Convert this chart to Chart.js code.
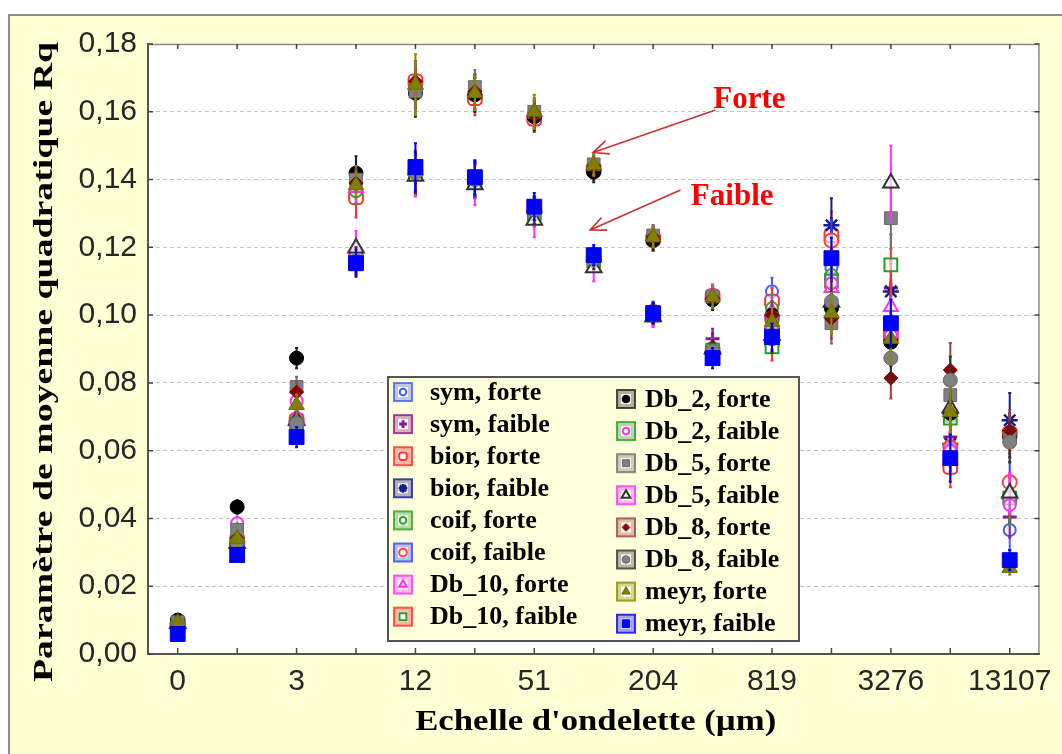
<!DOCTYPE html>
<html>
<head>
<meta charset="utf-8">
<script src="https://cdn.jsdelivr.net/npm/chart.js@4.4.1/dist/chart.umd.min.js"></script>
<style>
  html, body { margin: 0; padding: 0; background: #ffffff; }
  canvas { display: block; }
</style>
</head>
<body>
<canvas id="chart" width="1062" height="754"></canvas>
<script>
// Wavelet scales (µm) – one category per decomposition level
const categories = ['0', '1', '3', '6', '12', '25', '51', '102', '204', '409', '819', '1638', '3276', '6553', '13107'];
// Only every second scale carries a printed label
const tickLabels = ['0', '', '3', '', '12', '', '51', '', '204', '', '819', '', '3276', '', '13107'];
const yTicks = [0, 0.02, 0.04, 0.06, 0.08, 0.10, 0.12, 0.14, 0.16, 0.18];

// Rq values per wavelet family and filtering level ("forte" / "faible")
const symForte   = [0.0092, 0.0340, 0.0690, 0.1370, 0.1670, 0.1655, 0.1595, 0.1435, 0.1230, 0.1060, 0.1070, 0.1140, 0.0960, 0.0610, 0.0366];
const symFaible  = [0.0090, 0.0330, 0.0680, 0.1170, 0.1420, 0.1400, 0.1310, 0.1165, 0.1005, 0.0930, 0.0950, 0.1120, 0.1080, 0.0640, 0.0404];
const biorForte  = [0.0093, 0.0335, 0.0690, 0.1348, 0.1690, 0.1640, 0.1580, 0.1430, 0.1225, 0.1055, 0.1040, 0.1236, 0.0935, 0.0552, 0.0650];
const biorFaible = [0.0088, 0.0325, 0.0675, 0.1165, 0.1415, 0.1395, 0.1305, 0.1160, 0.1000, 0.0890, 0.0960, 0.1265, 0.1070, 0.0620, 0.0690];
const coifForte  = [0.0091, 0.0338, 0.0676, 0.1365, 0.1675, 0.1650, 0.1590, 0.1430, 0.1228, 0.1050, 0.1020, 0.1118, 0.0940, 0.0700, 0.0460];
const coifFaible = [0.0090, 0.0330, 0.0685, 0.1175, 0.1425, 0.1400, 0.1310, 0.1170, 0.1010, 0.0900, 0.0990, 0.1220, 0.0950, 0.0610, 0.0507];
const db10Forte  = [0.0095, 0.0345, 0.0700, 0.1375, 0.1680, 0.1660, 0.1600, 0.1440, 0.1235, 0.1060, 0.1010, 0.1080, 0.1024, 0.0720, 0.0470];
const db10Faible = [0.0089, 0.0328, 0.0678, 0.1160, 0.1420, 0.1395, 0.1300, 0.1160, 0.1000, 0.0897, 0.0906, 0.1100, 0.1148, 0.0696, 0.0460];
const db2Forte   = [0.0100, 0.0434, 0.0873, 0.1419, 0.1655, 0.1650, 0.1585, 0.1422, 0.1220, 0.1045, 0.1000, 0.1020, 0.0920, 0.0710, 0.0640];
const db2Faible  = [0.0091, 0.0386, 0.0746, 0.1180, 0.1425, 0.1405, 0.1305, 0.1165, 0.1005, 0.0895, 0.0960, 0.1094, 0.0940, 0.0600, 0.0440];
const db5Forte   = [0.0094, 0.0366, 0.0788, 0.1400, 0.1660, 0.1673, 0.1600, 0.1445, 0.1235, 0.1055, 0.0990, 0.0976, 0.1286, 0.0764, 0.0640];
const db5Faible  = [0.0090, 0.0327, 0.0690, 0.1198, 0.1410, 0.1385, 0.1280, 0.1140, 0.0995, 0.0900, 0.0940, 0.1038, 0.1390, 0.0726, 0.0475];
const db8Forte   = [0.0093, 0.0342, 0.0773, 0.1390, 0.1690, 0.1660, 0.1590, 0.1440, 0.1230, 0.1050, 0.1000, 0.0990, 0.0814, 0.0838, 0.0660];
const db8Faible  = [0.0089, 0.0330, 0.0680, 0.1160, 0.1420, 0.1400, 0.1310, 0.1165, 0.1005, 0.0895, 0.0930, 0.1040, 0.0873, 0.0808, 0.0625];
const meyrForte  = [0.0092, 0.0340, 0.0735, 0.1383, 0.1680, 0.1655, 0.1600, 0.1443, 0.1230, 0.1053, 0.0980, 0.1006, 0.0930, 0.0714, 0.0254];
const meyrFaible = [0.0059, 0.0292, 0.0640, 0.1153, 0.1437, 0.1407, 0.1320, 0.1177, 0.1006, 0.0873, 0.0935, 0.1168, 0.0976, 0.0578, 0.0277];

// Half-width of the error bar at each scale
const symForteErr   = [0.001, 0.002, 0.003, 0.004, 0.006, 0.005, 0.004, 0.003, 0.003, 0.003, 0.004, 0.006, 0.007, 0.007, 0.006];
const symFaibleErr  = [0.001, 0.002, 0.003, 0.004, 0.006, 0.005, 0.004, 0.003, 0.003, 0.003, 0.004, 0.006, 0.008, 0.007, 0.006];
const biorForteErr  = [0.001, 0.002, 0.003, 0.006, 0.006, 0.005, 0.004, 0.003, 0.003, 0.003, 0.004, 0.007, 0.008, 0.006, 0.006];
const biorFaibleErr = [0.001, 0.002, 0.003, 0.004, 0.006, 0.005, 0.004, 0.003, 0.003, 0.003, 0.004, 0.008, 0.008, 0.007, 0.008];
const coifForteErr  = [0.001, 0.002, 0.003, 0.004, 0.006, 0.005, 0.004, 0.003, 0.003, 0.003, 0.004, 0.006, 0.008, 0.007, 0.006];
const coifFaibleErr = [0.001, 0.002, 0.003, 0.004, 0.006, 0.005, 0.004, 0.003, 0.003, 0.003, 0.004, 0.006, 0.008, 0.007, 0.006];
const db10ForteErr  = [0.001, 0.002, 0.003, 0.004, 0.006, 0.005, 0.004, 0.003, 0.003, 0.003, 0.004, 0.006, 0.008, 0.007, 0.006];
const db10FaibleErr = [0.001, 0.002, 0.003, 0.004, 0.006, 0.005, 0.004, 0.003, 0.003, 0.003, 0.004, 0.006, 0.009, 0.007, 0.006];
const db2ForteErr   = [0.001, 0.002, 0.003, 0.005, 0.007, 0.005, 0.004, 0.003, 0.003, 0.003, 0.004, 0.006, 0.007, 0.007, 0.006];
const db2FaibleErr  = [0.001, 0.002, 0.003, 0.004, 0.006, 0.005, 0.004, 0.003, 0.003, 0.003, 0.004, 0.006, 0.007, 0.007, 0.006];
const db5ForteErr   = [0.001, 0.002, 0.003, 0.004, 0.006, 0.005, 0.004, 0.003, 0.003, 0.003, 0.004, 0.006, 0.009, 0.007, 0.006];
const db5FaibleErr  = [0.001, 0.002, 0.003, 0.005, 0.006, 0.006, 0.005, 0.004, 0.003, 0.003, 0.004, 0.007, 0.011, 0.007, 0.006];
const db8ForteErr   = [0.001, 0.002, 0.003, 0.004, 0.006, 0.005, 0.004, 0.003, 0.003, 0.003, 0.004, 0.006, 0.006, 0.008, 0.006];
const db8FaibleErr  = [0.001, 0.002, 0.003, 0.004, 0.006, 0.005, 0.004, 0.003, 0.003, 0.003, 0.004, 0.006, 0.007, 0.007, 0.006];
const meyrForteErr  = [0.001, 0.002, 0.003, 0.004, 0.009, 0.005, 0.005, 0.003, 0.003, 0.003, 0.004, 0.006, 0.007, 0.007, 0.002];
const meyrFaibleErr = [0.001, 0.002, 0.003, 0.004, 0.007, 0.005, 0.004, 0.003, 0.003, 0.003, 0.004, 0.006, 0.007, 0.007, 0.003];

const seriesNames = [
  'sym, forte', 'sym, faible', 'bior, forte', 'bior, faible', 'coif, forte', 'coif, faible',
  'Db_10, forte', 'Db_10, faible', 'Db_2, forte', 'Db_2, faible', 'Db_5, forte', 'Db_5, faible',
  'Db_8, forte', 'Db_8, faible', 'meyr, forte', 'meyr, faible'
];
const seriesValues = [symForte, symFaible, biorForte, biorFaible, coifForte, coifFaible,
  db10Forte, db10Faible, db2Forte, db2Faible, db5Forte, db5Faible, db8Forte, db8Faible, meyrForte, meyrFaible];
const seriesErrors = [symForteErr, symFaibleErr, biorForteErr, biorFaibleErr, coifForteErr, coifFaibleErr,
  db10ForteErr, db10FaibleErr, db2ForteErr, db2FaibleErr, db5ForteErr, db5FaibleErr, db8ForteErr, db8FaibleErr, meyrForteErr, meyrFaibleErr];

// Marker look of each series: shape, size, marker colours, error-bar / legend-frame colour
const markerStyles = [
  { shape: 'circle',      r: 6,   fill: 'rgba(255,255,255,0.6)', line: '#4a5cff', width: 2,   err: '#4a5cff' },
  { shape: 'cross',       r: 7,   fill: '#8b1a8b',               line: '#8b1a8b', width: 3,   err: '#8b1a8b' },
  { shape: 'rectRounded', r: 8,   fill: 'rgba(255,255,255,0.6)', line: '#ff3030', width: 2,   err: '#ff3030' },
  { shape: 'star',        r: 8,   fill: '#1a1a8c',               line: '#1a1a8c', width: 2.5, err: '#1a1a8c' },
  { shape: 'circle',      r: 6,   fill: 'rgba(255,255,255,0.6)', line: '#30a030', width: 2,   err: '#30a030' },
  { shape: 'circle',      r: 7,   fill: 'rgba(255,255,255,0.6)', line: '#ff4040', width: 2,   err: '#3344ff' },
  { shape: 'triangle',    r: 8,   fill: 'rgba(255,255,255,0.6)', line: '#ff30ff', width: 2,   err: '#ff30ff' },
  { shape: 'rect',        r: 9,   fill: 'rgba(255,255,255,0.6)', line: '#2a9a2a', width: 2,   err: '#ff3030' },
  { shape: 'circle',      r: 7,   fill: '#000000',               line: '#000000', width: 1,   err: '#202020' },
  { shape: 'circle',      r: 6,   fill: 'rgba(255,255,255,0.6)', line: '#ff30ff', width: 2,   err: '#2a9a2a' },
  { shape: 'rect',        r: 9,   fill: '#808080',               line: '#6a6a6a', width: 1,   err: '#707070' },
  { shape: 'triangle',    r: 9,   fill: 'rgba(255,255,255,0.7)', line: '#333333', width: 2,   err: '#ff30ff' },
  { shape: 'rectRot',     r: 7,   fill: '#8b0000',               line: '#8b0000', width: 1,   err: '#a04040' },
  { shape: 'circle',      r: 7,   fill: '#808080',               line: '#6a6a6a', width: 1,   err: '#333333' },
  { shape: 'triangle',    r: 9,   fill: '#808000',               line: '#6b6b00', width: 1,   err: '#8a8a00' },
  { shape: 'rect',        r: 10.5, fill: '#0000ff',              line: '#0000e0', width: 1,   err: '#0000ff' }
];

const datasets = seriesNames.map((name, i) => ({
  label: name,
  data: seriesValues[i],
  errors: seriesErrors[i],
  errColor: markerStyles[i].err,
  showLine: false,
  pointStyle: markerStyles[i].shape,
  pointRadius: markerStyles[i].r,
  pointBackgroundColor: markerStyles[i].fill,
  pointBorderColor: markerStyles[i].line,
  pointBorderWidth: markerStyles[i].width,
  order: seriesNames.length - i
}));

const FRAME_BG = '#ffffd6';
const SERIF_BOLD = '"Liberation Serif", "Times New Roman", serif';

// Light-yellow panel around the white plotting area
const framePlugin = {
  id: 'frame',
  beforeDraw(chart) {
    const { ctx, width, height, chartArea: a } = chart;
    ctx.save();
    ctx.fillStyle = '#ffffff';
    ctx.fillRect(0, 0, width, height);
    ctx.fillStyle = FRAME_BG;
    ctx.fillRect(8, 14, width - 8, height - 14);
    ctx.strokeStyle = '#8c8c8c';
    ctx.lineWidth = 2;
    ctx.strokeRect(9, 15, width + 20, height + 20);
    ctx.fillStyle = '#ffffff';
    ctx.fillRect(a.left, a.top, a.right - a.left, a.bottom - a.top);
    ctx.restore();
  }
};

// Vertical error bars, drawn just before each series' markers
const errorBarPlugin = {
  id: 'errorBars',
  beforeDatasetDraw(chart, args) {
    const ds = chart.data.datasets[args.index];
    if (!ds.errors) return;
    const ys = chart.scales.y;
    const ctx = chart.ctx;
    ctx.save();
    ctx.strokeStyle = ds.errColor;
    ctx.lineWidth = 2;
    args.meta.data.forEach((pt, i) => {
      const v = ds.data[i], e = ds.errors[i];
      const yTop = ys.getPixelForValue(v + e);
      const yBot = ys.getPixelForValue(v - e);
      ctx.beginPath();
      ctx.moveTo(pt.x, yTop);
      ctx.lineTo(pt.x, yBot);
      ctx.moveTo(pt.x - 1.5, yTop);
      ctx.lineTo(pt.x + 1.5, yTop);
      ctx.moveTo(pt.x - 1.5, yBot);
      ctx.lineTo(pt.x + 1.5, yBot);
      ctx.stroke();
    });
    ctx.restore();
  }
};

function drawMarker(ctx, st, x, y, r) {
  ctx.fillStyle = st.fill;
  ctx.strokeStyle = st.line;
  ctx.lineWidth = st.width;
  const opts = { pointStyle: st.shape, radius: r, rotation: 0, borderWidth: st.width };
  Chart.helpers.drawPoint(ctx, opts, x, y);
}

// Plot-box decorations, annotations, axis titles and the boxed legend
const overlayPlugin = {
  id: 'overlay',
  afterDraw(chart) {
    const { ctx, chartArea: a } = chart;
    const xs = chart.scales.x, ys = chart.scales.y;
    ctx.save();

    // top and right edges of the plot box
    ctx.strokeStyle = '#8a8a8a';
    ctx.lineWidth = 1.5;
    ctx.beginPath();
    ctx.moveTo(a.left, a.top + 0.5);
    ctx.lineTo(a.right - 0.5, a.top + 0.5);
    ctx.lineTo(a.right - 0.5, a.bottom);
    ctx.stroke();

    // inward tick marks on all four sides
    ctx.strokeStyle = '#444';
    ctx.lineWidth = 1.5;
    ctx.beginPath();
    categories.forEach((c, i) => {
      const px = xs.getPixelForValue(i);
      ctx.moveTo(px, a.bottom); ctx.lineTo(px, a.bottom - 6);
      ctx.moveTo(px, a.top); ctx.lineTo(px, a.top + 5);
    });
    yTicks.forEach(v => {
      const py = ys.getPixelForValue(v);
      ctx.moveTo(a.left, py); ctx.lineTo(a.left + 5, py);
      ctx.moveTo(a.right, py); ctx.lineTo(a.right - 5, py);
    });
    ctx.stroke();

    // "Forte" / "Faible" arrows pointing at the two groups
    const arrow = (x0, v0, x1, v1) => {
      const sx = xs.getPixelForValue(x0), sy = ys.getPixelForValue(v0);
      const tx = xs.getPixelForValue(x1), ty = ys.getPixelForValue(v1);
      const ang = Math.atan2(ty - sy, tx - sx);
      const head = 17, spread = 0.42;
      ctx.strokeStyle = '#c83232';
      ctx.lineWidth = 1.6;
      ctx.beginPath();
      ctx.moveTo(sx, sy); ctx.lineTo(tx, ty);
      ctx.moveTo(tx - head * Math.cos(ang - spread), ty - head * Math.sin(ang - spread));
      ctx.lineTo(tx, ty);
      ctx.lineTo(tx - head * Math.cos(ang + spread), ty - head * Math.sin(ang + spread));
      ctx.stroke();
    };
    arrow(9.05, 0.1605, 6.99, 0.1480);
    arrow(8.46, 0.1369, 6.94, 0.1251);
    ctx.fillStyle = '#ff0000';
    ctx.font = 'bold 31px ' + SERIF_BOLD;
    ctx.textAlign = 'center';
    ctx.textBaseline = 'alphabetic';
    ctx.fillText('Forte', xs.getPixelForValue(9.62), ys.getPixelForValue(0.1610));
    ctx.fillText('Faible', xs.getPixelForValue(9.33), ys.getPixelForValue(0.1324));

    // axis titles
    const stretchedText = (text, cx, cy, fontPx, targetLen, rot) => {
      ctx.save();
      ctx.font = 'bold ' + fontPx + 'px ' + SERIF_BOLD;
      const w = ctx.measureText(text).width;
      ctx.translate(cx, cy);
      ctx.rotate(rot);
      ctx.scale(targetLen / w, 1);
      ctx.fillStyle = '#000';
      ctx.textAlign = 'center';
      ctx.textBaseline = 'middle';
      ctx.fillText(text, 0, 0);
      ctx.restore();
    };
    stretchedText("Echelle d'ondelette (µm)", (a.left + a.right) / 2 + 2, 722, 30, 361, 0);
    stretchedText('Paramètre de moyenne quadratique Rq', 45, 362, 28, 640, -Math.PI / 2);

    // legend box
    const bx = 388, by = 377, bw = 411, bh = 264;
    ctx.fillStyle = '#ffffdc';
    ctx.fillRect(bx, by, bw, bh);
    ctx.strokeStyle = '#555';
    ctx.lineWidth = 2;
    ctx.strokeRect(bx, by, bw, bh);
    ctx.font = 'bold 26px ' + SERIF_BOLD;
    ctx.textAlign = 'left';
    ctx.textBaseline = 'middle';
    seriesNames.forEach((name, i) => {
      const col = i < 8 ? 0 : 1;
      const row = i % 8;
      const sx = col === 0 ? 403 : 626;
      const sy = (col === 0 ? 392 : 399) + row * 32.1;
      const st = markerStyles[i];
      ctx.save();
      ctx.globalAlpha = 0.35;
      ctx.fillStyle = st.err;
      ctx.fillRect(sx - 9, sy - 9, 18, 18);
      ctx.globalAlpha = 0.8;
      ctx.strokeStyle = st.err;
      ctx.lineWidth = 2;
      ctx.strokeRect(sx - 9, sy - 9, 18, 18);
      ctx.globalAlpha = 1;
      ctx.fillStyle = '#ffffff';
      ctx.fillRect(sx - 5, sy - 5, 10, 10);
      drawMarker(ctx, st, sx, sy, Math.min(st.r * 0.55, 5.5));
      ctx.restore();
      ctx.fillStyle = '#000';
      ctx.fillText(name, col === 0 ? 430 : 645, sy + 1);
    });
    ctx.restore();
  }
};

new Chart(document.getElementById('chart'), {
  type: 'line',
  data: { labels: categories, datasets: datasets },
  plugins: [framePlugin, errorBarPlugin, overlayPlugin],
  options: {
    responsive: false,
    animation: false,
    devicePixelRatio: 1,
    layout: { padding: { top: 44, right: 17, left: 0, bottom: 0 } },
    plugins: { legend: { display: false }, tooltip: { enabled: false } },
    scales: {
      x: {
        type: 'category',
        offset: true,
        grid: { display: false, drawTicks: false },
        border: { display: true, color: '#555555', width: 2 },
        ticks: {
          autoSkip: false,
          maxRotation: 0,
          padding: 10,
          color: '#262626',
          font: { family: '"Liberation Sans", Arial, sans-serif', size: 30 },
          callback: (v, i) => tickLabels[i]
        },
        afterFit: s => { s.height = 100; }
      },
      y: {
        min: 0,
        max: 0.18,
        afterBuildTicks: s => { s.ticks = yTicks.map(v => ({ value: v })); },
        grid: { color: '#c4c4c4', lineWidth: 1, drawTicks: false },
        border: { display: true, color: '#555555', width: 2, dash: [4, 3] },
        ticks: {
          padding: 11,
          color: '#262626',
          font: { family: '"Liberation Sans", Arial, sans-serif', size: 30 },
          callback: v => v.toFixed(2).replace('.', ',')
        },
        afterFit: s => { s.width = 148; }
      }
    }
  }
});
</script>
</body>
</html>
